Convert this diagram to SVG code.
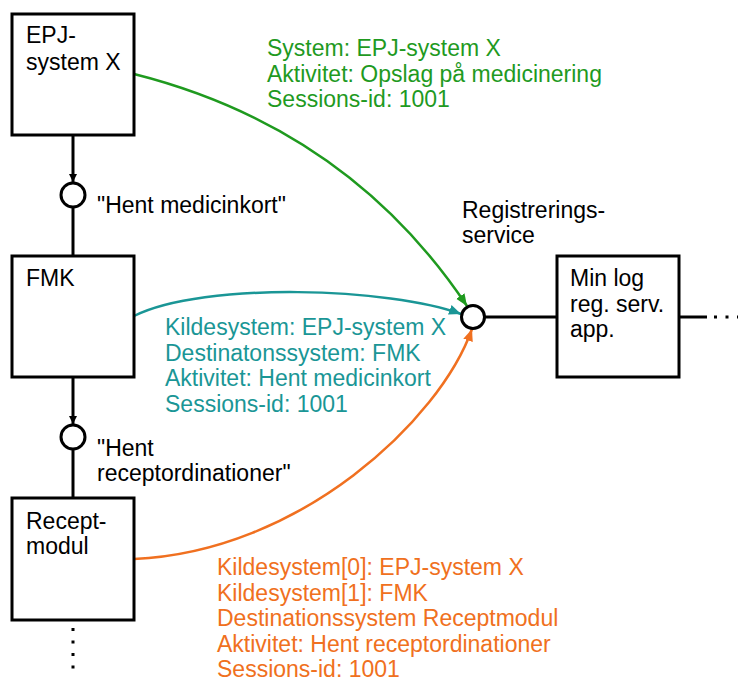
<svg xmlns="http://www.w3.org/2000/svg" width="738" height="682" viewBox="0 0 738 682">
<style>
text{font-family:"Liberation Sans",Arial,sans-serif;font-size:23px}
.k{fill:#000}
.g{fill:#1f9a1f}
.t{fill:#1a9696}
.o{fill:#f07020}
.box{fill:#fff;stroke:#000;stroke-width:3}
.ln{fill:none;stroke:#000;stroke-width:3}
.ifc{fill:#fff;stroke:#000;stroke-width:3}
</style>
<defs>
<marker id="ak" markerWidth="10" markerHeight="10" refX="8" refY="4" orient="auto" markerUnits="userSpaceOnUse"><path d="M0,0 L8,4 L0,8 Z" fill="#000"/></marker>
<marker id="ag" markerWidth="14" markerHeight="12" refX="12" refY="5" orient="auto" markerUnits="userSpaceOnUse"><path d="M0,0 L12,5 L0,10 Z" fill="#1f9a1f"/></marker>
<marker id="at" markerWidth="14" markerHeight="12" refX="12" refY="5" orient="auto" markerUnits="userSpaceOnUse"><path d="M0,0 L12,5 L0,10 Z" fill="#1a9696"/></marker>
<marker id="ao" markerWidth="14" markerHeight="12" refX="12" refY="5" orient="auto" markerUnits="userSpaceOnUse"><path d="M0,0 L12,5 L0,10 Z" fill="#f07020"/></marker>
</defs>
<g id="connectors">
<line class="ln" x1="73" y1="135" x2="73" y2="182" marker-end="url(#ak)"/>
<line class="ln" x1="73" y1="207" x2="73" y2="256"/>
<line class="ln" x1="73" y1="377" x2="73" y2="424" marker-end="url(#ak)"/>
<line class="ln" x1="73" y1="449" x2="73" y2="498"/>
<line class="ln" x1="73" y1="628" x2="73" y2="670" stroke-dasharray="3 9.5"/>
<line class="ln" x1="485" y1="317" x2="557" y2="317"/>
<line class="ln" x1="679" y1="317" x2="707" y2="317"/>
<line class="ln" x1="714" y1="317" x2="738" y2="317" stroke-dasharray="3 8.5"/>
<path d="M134,74 Q348,128 467,306" fill="none" stroke="#1f9a1f" stroke-width="2.5" marker-end="url(#ag)"/>
<path d="M134,316 C204,281 392,288 461,314" fill="none" stroke="#1a9696" stroke-width="2.5" marker-end="url(#at)"/>
<path d="M134,559 C300,552 440,420 472,329" fill="none" stroke="#f07020" stroke-width="2.5" marker-end="url(#ao)"/>
</g>
<g id="epj">
<rect class="box" x="12" y="14" width="122" height="121"/>
<text class="k" x="26" y="43">EPJ-</text>
<text class="k" x="26" y="69.5">system X</text>
</g>
<g id="ifc1">
<circle class="ifc" cx="73" cy="195" r="12"/>
<text class="k" x="97" y="213">"Hent medicinkort"</text>
</g>
<g id="fmk">
<rect class="box" x="12" y="256" width="122" height="121"/>
<text class="k" x="26" y="286">FMK</text>
</g>
<g id="ifc2">
<circle class="ifc" cx="73" cy="437" r="12"/>
<text class="k" x="97" y="455.5">"Hent</text>
<text class="k" x="97" y="480.5">receptordinationer"</text>
</g>
<g id="recept">
<rect class="box" x="12" y="498" width="122" height="122"/>
<text class="k" x="26" y="529">Recept-</text>
<text class="k" x="26" y="554">modul</text>
</g>
<g id="regservice">
<circle class="ifc" cx="473" cy="317" r="11.5"/>
<text class="k" x="462" y="218">Registrerings-</text>
<text class="k" x="462" y="243">service</text>
</g>
<g id="minlog">
<rect class="box" x="557" y="256" width="122" height="121"/>
<text class="k" x="570" y="286">Min log</text>
<text class="k" x="570" y="312">reg. serv.</text>
<text class="k" x="570" y="337">app.</text>
</g>
<g id="label-green">
<text class="g" x="267" y="56">System: EPJ-system X</text>
<text class="g" x="267" y="81.5">Aktivitet: Opslag på medicinering</text>
<text class="g" x="267" y="107">Sessions-id: 1001</text>
</g>
<g id="label-teal">
<text class="t" x="165" y="335">Kildesystem: EPJ-system X</text>
<text class="t" x="165" y="360.5">Destinatonssystem: FMK</text>
<text class="t" x="165" y="386">Aktivitet: Hent medicinkort</text>
<text class="t" x="165" y="411.5">Sessions-id: 1001</text>
</g>
<g id="label-orange">
<text class="o" x="217" y="575">Kildesystem[0]: EPJ-system X</text>
<text class="o" x="217" y="600.5">Kildesystem[1]: FMK</text>
<text class="o" x="217" y="626">Destinationssystem Receptmodul</text>
<text class="o" x="217" y="651.5">Aktivitet: Hent receptordinationer</text>
<text class="o" x="217" y="677">Sessions-id: 1001</text>
</g>
</svg>
